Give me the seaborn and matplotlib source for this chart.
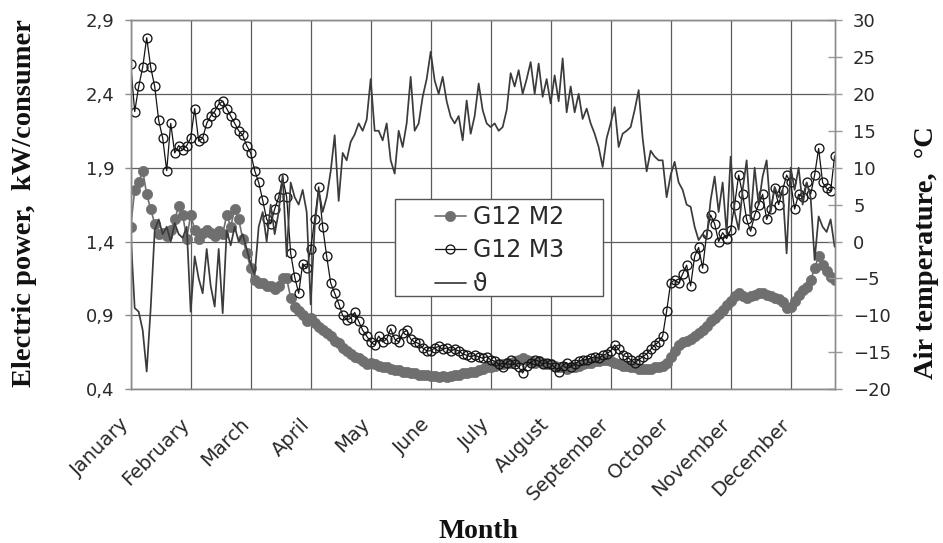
import numpy as np
import pandas as pd
import matplotlib
matplotlib.use("Agg")
import matplotlib.pyplot as plt
import matplotlib.transforms as mtransforms
from matplotlib.patches import Rectangle
from matplotlib.ticker import FuncFormatter
import seaborn as sns

# ---- data -------------------------------------------------------------
months = ["January", "February", "March", "April", "May", "June", "July",
          "August", "September", "October", "November", "December"]
month_start_day = [0, 30, 60, 90, 120, 150, 180, 210, 240, 270, 300, 330]

# sampling days (every second day of the year)
sample_day = list(range(0, 353, 2))

# daily mean electric power per consumer, kW (tariff group G12, meter type M2)
power_g12_m2 = [
    1.50, 1.75, 1.80, 1.88, 1.72, 1.62, 1.52, 1.45, 1.46, 1.44, 1.48, 1.55, 1.64, 1.58, 1.42,
    1.58, 1.48, 1.42, 1.46, 1.48, 1.46, 1.44, 1.47, 1.45, 1.58, 1.50, 1.62, 1.55, 1.42, 1.32,
    1.22, 1.14, 1.12, 1.12, 1.10, 1.10, 1.08, 1.10, 1.15, 1.15, 1.02, 0.96, 0.93, 0.90, 0.86,
    0.88, 0.85, 0.82, 0.80, 0.78, 0.76, 0.73, 0.71, 0.68, 0.66, 0.64, 0.62, 0.61, 0.59, 0.57,
    0.58, 0.57, 0.56, 0.55, 0.55, 0.54, 0.53, 0.53, 0.52, 0.52, 0.51, 0.51, 0.50, 0.50, 0.50,
    0.49, 0.49, 0.48, 0.49, 0.48, 0.49, 0.50, 0.50, 0.51, 0.51, 0.52, 0.52, 0.53, 0.54, 0.55,
    0.55, 0.56, 0.57, 0.57, 0.58, 0.58, 0.59, 0.60, 0.61, 0.60, 0.59, 0.58, 0.59, 0.58, 0.57,
    0.57, 0.56, 0.55, 0.55, 0.54, 0.55, 0.55, 0.56, 0.57, 0.58, 0.58, 0.59, 0.59, 0.60, 0.60,
    0.59, 0.58, 0.57, 0.56, 0.56, 0.55, 0.55, 0.54, 0.54, 0.54, 0.54, 0.55, 0.55, 0.56, 0.58,
    0.62, 0.66, 0.70, 0.72, 0.73, 0.74, 0.76, 0.78, 0.80, 0.83, 0.86, 0.88, 0.91, 0.94, 0.97,
    1.00, 1.03, 1.05, 1.03, 1.02, 1.03, 1.04, 1.05, 1.05, 1.04, 1.03, 1.02, 1.01, 0.99, 0.95,
    0.96, 1.00, 1.04, 1.07, 1.09, 1.14, 1.22, 1.30, 1.24, 1.20, 1.16, 1.14,
]

# daily mean electric power per consumer, kW (tariff group G12, meter type M3)
power_g12_m3 = [
    2.60, 2.28, 2.45, 2.58, 2.78, 2.58, 2.45, 2.22, 2.10, 1.88, 2.20, 2.00, 2.05, 2.02, 2.05,
    2.10, 2.30, 2.08, 2.10, 2.20, 2.25, 2.28, 2.33, 2.35, 2.30, 2.25, 2.20, 2.15, 2.12, 2.05,
    2.00, 1.88, 1.80, 1.68, 1.55, 1.52, 1.62, 1.70, 1.83, 1.70, 1.32, 1.16, 1.05, 1.25, 1.22,
    1.35, 1.55, 1.77, 1.50, 1.30, 1.12, 1.05, 0.98, 0.90, 0.87, 0.88, 0.92, 0.86, 0.80, 0.76,
    0.72, 0.70, 0.76, 0.72, 0.74, 0.81, 0.74, 0.72, 0.78, 0.80, 0.74, 0.72, 0.71, 0.68, 0.66,
    0.66, 0.68, 0.69, 0.67, 0.68, 0.66, 0.67, 0.66, 0.64, 0.63, 0.62, 0.63, 0.62, 0.61, 0.62,
    0.60, 0.59, 0.57, 0.55, 0.58, 0.60, 0.57, 0.55, 0.51, 0.56, 0.58, 0.60, 0.59, 0.57, 0.58,
    0.57, 0.55, 0.52, 0.56, 0.58, 0.55, 0.57, 0.59, 0.60, 0.60, 0.61, 0.62, 0.61, 0.63, 0.64,
    0.66, 0.70, 0.67, 0.63, 0.62, 0.60, 0.58, 0.60, 0.62, 0.64, 0.67, 0.70, 0.72, 0.76, 0.93,
    1.12, 1.14, 1.12, 1.18, 1.24, 1.10, 1.30, 1.36, 1.22, 1.45, 1.58, 1.52, 1.40, 1.46, 1.42,
    1.48, 1.65, 1.85, 1.72, 1.55, 1.47, 1.58, 1.65, 1.72, 1.55, 1.62, 1.76, 1.65, 1.75, 1.85,
    1.80, 1.62, 1.72, 1.70, 1.80, 1.72, 1.85, 2.03, 1.80, 1.76, 1.74, 1.98,
]

# daily mean air temperature, deg C
air_temp = [
    1.0, -9.0, -9.5, -12.0, -17.6, -9.0, 1.5, 3.0, 1.0, 2.0, 0.0, 2.5, 1.0, 0.5, 2.0,
    -9.5, -2.0, -5.0, -7.0, -1.0, -6.0, -8.8, -1.0, -9.7, 1.5, -0.5, 2.0, 0.0, 1.0, -1.0,
    -3.0, -4.5, 2.0, 4.0, 0.0, 5.0, 1.0, 4.0, 9.0, -2.0, 8.0, 6.0, 5.0, 7.0, 4.0,
    -8.5, 2.0, 7.0, 4.0, 6.0, 9.5, 14.4, 5.5, 12.0, 11.0, 13.5, 14.5, 16.0, 15.0, 16.5,
    22.0, 15.0, 15.0, 13.7, 16.0, 11.0, 9.2, 15.0, 12.8, 16.0, 22.3, 15.0, 16.0, 19.6, 22.0,
    25.7, 21.8, 20.0, 22.3, 19.0, 16.9, 16.0, 17.0, 13.7, 19.1, 14.6, 17.0, 21.4, 17.8, 16.0,
    15.5, 16.0, 15.0, 15.5, 17.8, 22.8, 21.0, 23.2, 20.0, 22.0, 24.3, 20.0, 24.1, 19.6, 22.0,
    18.7, 22.5, 19.0, 24.8, 17.5, 21.0, 17.5, 20.0, 16.6, 18.0, 16.0, 14.6, 12.8, 10.1, 14.0,
    16.0, 18.2, 12.8, 14.6, 15.0, 15.5, 17.8, 20.5, 14.0, 9.5, 12.3, 11.5, 11.0, 11.0, 6.0,
    9.0, 10.8, 8.0, 7.0, 5.0, 4.7, 2.0, 0.2, 1.0, 0.5, 5.6, 8.8, 4.0, 8.0, 1.1,
    11.5, 4.0, 1.6, 7.0, 11.0, 3.0, 10.0, 5.0, 8.8, 11.0, 4.0, 7.4, 6.0, 7.0, -1.6,
    10.0, 7.0, 10.0, 5.0, 8.0, 6.0, -2.5, 3.4, 2.0, 1.3, 3.0, -0.7,
]

power_ticks = [0.4, 0.9, 1.4, 1.9, 2.4, 2.9]
temp_ticks = list(range(-20, 31, 5))

df = pd.DataFrame({
    "day": sample_day,
    "G12 M2": power_g12_m2,
    "G12 M3": power_g12_m3,
    "temp": air_temp,
})

# ---- style --------------------------------------------------------------
sns.set_theme(style="white")
plt.rcParams["font.family"] = ["DejaVu Sans"]

TICK_COLOR = "#2a2a2a"
GRID_COLOR = "#5c5c5c"
SPINE_COLOR = "#8c8c8c"
M2_COLOR = "#6f6f6f"
M3_COLOR = "#141414"
TEMP_COLOR = "#3b3b3b"

fig = plt.figure(figsize=(9.43, 5.43), dpi=100)
ax = fig.add_axes([0.1386, 0.2831, 0.7469, 0.6801])
ax2 = ax.twinx()

sns.lineplot(data=df, x="day", y="G12 M2", ax=ax, color=M2_COLOR, lw=1.2,
             marker="o", markersize=7.4, markerfacecolor=M2_COLOR,
             markeredgecolor=M2_COLOR, markeredgewidth=0.5, legend=False)
sns.lineplot(data=df, x="day", y="G12 M3", ax=ax, color=M3_COLOR, lw=0.9,
             marker="o", markersize=6.4, markerfacecolor="none",
             markeredgecolor=M3_COLOR, markeredgewidth=0.95, legend=False)
sns.lineplot(data=df, x="day", y="temp", ax=ax2, color=TEMP_COLOR, lw=1.25,
             legend=False)

# ---- axes ---------------------------------------------------------------
ax.set_xlim(0, 352.2)
ax.set_ylim(0.4, 2.9)
ax2.set_ylim(-20, 30)

ax.set_xticks(month_start_day)
ax.set_xticklabels(months, rotation=45, ha="right", va="center",
                   rotation_mode="anchor")
ax.set_yticks(power_ticks)
ax.yaxis.set_major_formatter(FuncFormatter(lambda v, _: f"{v:.1f}".replace(".", ",")))
ax2.set_yticks(temp_ticks)

ax.grid(True, color=GRID_COLOR, lw=0.9)
ax2.grid(False)

for a in (ax, ax2):
    for sp in a.spines.values():
        sp.set_color(SPINE_COLOR)
        sp.set_linewidth(1.0)

ax.tick_params(axis="x", direction="inout", length=10, width=1.0,
               color="#9a9a9a", pad=18, labelsize=14, labelcolor=TICK_COLOR)
ax.tick_params(axis="y", direction="out", length=4.5, width=1.0,
               color=SPINE_COLOR, pad=7, labelsize=13, labelcolor=TICK_COLOR)
ax2.tick_params(axis="y", direction="inout", length=10, width=1.0,
                color="#9a9a9a", pad=8, labelsize=13, labelcolor=TICK_COLOR)

shift = mtransforms.ScaledTranslation(-0.04, 0, fig.dpi_scale_trans)
for lab in ax.get_xticklabels():
    lab.set_transform(lab.get_transform() + shift)

ax.set_xlabel("")
ax.set_ylabel("Electric power,  kW/consumer", family="Liberation Serif",
              fontweight="bold", fontsize=20.5, color="#111111")
ax.yaxis.set_label_coords(-0.133, 0.505)
ax2.set_ylabel("Air temperature,  \u00b0C", family="Liberation Serif",
               fontweight="bold", fontsize=20.5, color="#111111")
ax2.yaxis.set_label_coords(1.112, 0.37)
fig.text(0.507, 1 - 519 / 543, "Month", family="Liberation Serif",
         fontweight="bold", fontsize=20, color="#111111", ha="center", va="top")

# ---- legend ---------------------------------------------------------------
ax2.add_patch(Rectangle((0.3753, 0.2526), 0.2953, 0.2627, transform=ax2.transAxes,
                        facecolor="white", edgecolor="#555555", lw=1.0, zorder=4))
handles = [ax.lines[0], ax.lines[1], ax2.lines[0]]
leg = ax2.legend(handles, ["G12 M2", "G12 M3", "\u03d1"], loc="upper left",
                 bbox_to_anchor=(0.432, 0.499), frameon=False, borderpad=0,
                 handlelength=1.3, handletextpad=0.3, labelspacing=0.4,
                 fontsize=17, borderaxespad=0)
leg.set_zorder(5)
for t in leg.get_texts():
    t.set_color(TICK_COLOR)

fig.savefig("out.png", dpi=100)
